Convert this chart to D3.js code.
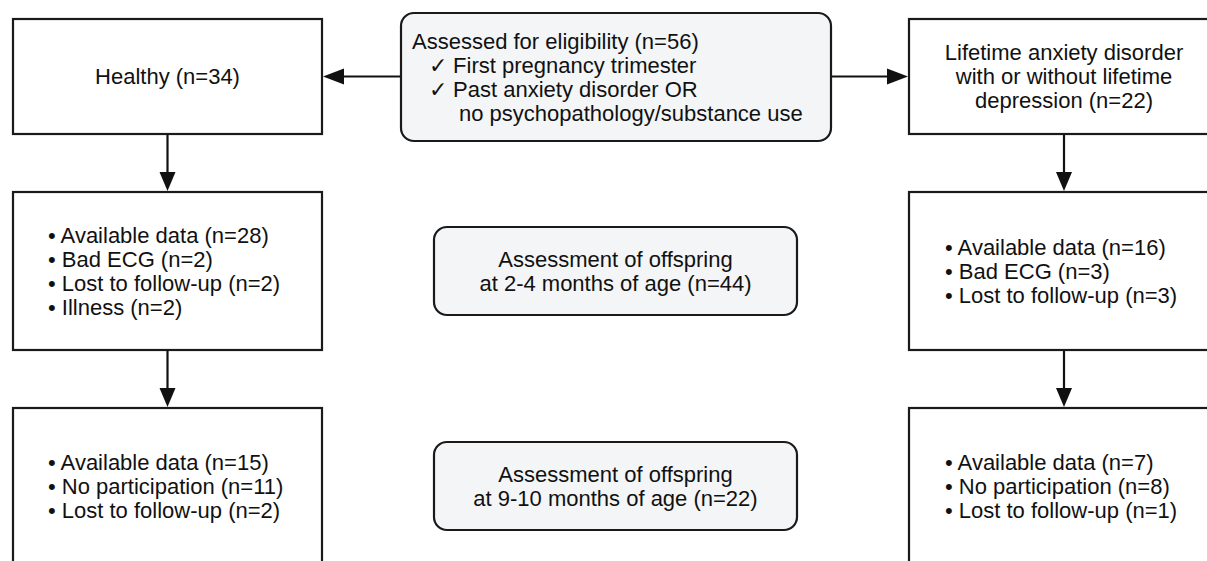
<!DOCTYPE html>
<html>
<head>
<meta charset="utf-8">
<script src="https://cdn.jsdelivr.net/npm/d3@7"></script>
<style>
	body { margin: 0; background: #fff; }
	svg { display: block; }
	.box { stroke: #1a1a1a; stroke-width: 2.2; }
	.link { stroke: #111; stroke-width: 2.2; fill: none; }
	.head { fill: #111; }
	text { font-family: "Liberation Sans", Arial, Helvetica, sans-serif; font-size: 22px; fill: #111; }
</style>
</head>
<body>
<div id="graphic"></div>
<script>
// box texts
var eligibilityText = ["Assessed for eligibility (n=56)", "\u2713 First pregnancy trimester", "\u2713 Past anxiety disorder OR", "no psychopathology/substance use"]
var healthyText = ["Healthy (n=34)"]
var anxietyText = ["Lifetime anxiety disorder", "with or without lifetime", "depression (n=22)"]
var healthy1Text = ["\u2022 Available data (n=28)", "\u2022 Bad ECG (n=2)", "\u2022 Lost to follow-up (n=2)", "\u2022 Illness (n=2)"]
var anxiety1Text = ["\u2022 Available data (n=16)", "\u2022 Bad ECG (n=3)", "\u2022 Lost to follow-up (n=3)"]
var assess1Text = ["Assessment of offspring", "at 2-4 months of age (n=44)"]
var healthy2Text = ["\u2022 Available data (n=15)", "\u2022 No participation (n=11)", "\u2022 Lost to follow-up (n=2)"]
var anxiety2Text = ["\u2022 Available data (n=7)", "\u2022 No participation (n=8)", "\u2022 Lost to follow-up (n=1)"]
var assess2Text = ["Assessment of offspring", "at 9-10 months of age (n=22)"]

// which box goes to which box
var LINKS = [["eligibility","healthy"],["eligibility","anxiety"],["healthy","healthy1"],["healthy1","healthy2"],["anxiety","anxiety1"],["anxiety1","anxiety2"]]

var width = 1207, height = 561
var lineHeight = 24

// layout of the boxes (pixels)
var layout = {
	eligibility: {x0: 401, x1: 831, y0: 13, y1: 141, round: true, lines: eligibilityText, align: "left", indent: [11, 28, 28, 58]},
	healthy: {x0: 13, x1: 322, y0: 19, y1: 134, lines: healthyText},
	anxiety: {x0: 909, x1: 1219, y0: 19, y1: 134, lines: anxietyText},
	healthy1: {x0: 13, x1: 322, y0: 192, y1: 350, lines: healthy1Text, align: "left", indent: [35]},
	assess1: {x0: 434, x1: 797, y0: 227, y1: 315, round: true, lines: assess1Text},
	anxiety1: {x0: 909, x1: 1219, y0: 192, y1: 350, lines: anxiety1Text, align: "left", indent: [36]},
	healthy2: {x0: 13, x1: 322, y0: 408, y1: 564, lines: healthy2Text, align: "left", indent: [35]},
	assess2: {x0: 434, x1: 797, y0: 442, y1: 530, round: true, lines: assess2Text},
	anxiety2: {x0: 909, x1: 1219, y0: 408, y1: 564, lines: anxiety2Text, align: "left", indent: [36]}
}

var nodes = Object.keys(layout).map(function(k){ var o = layout[k]; o.id = k; return o })

var svg = d3.select("#graphic")
	.append("svg")
	.attr("width", width)
	.attr("height", height)

// arrows first so the boxes sit on top
var arrowLen = 19, arrowHalf = 8
var links = svg.append("g")
LINKS.forEach(function(l){
	var a = layout[l[0]], b = layout[l[1]]
	var x1, y1, x2, y2, head
	if(a.y1 < b.y0){
		// vertical
		var cx = (b.x0 + b.x1) / 2
		x1 = cx; y1 = a.y1; x2 = cx; y2 = b.y0 - 1
		head = [[x2, y2], [x2 - arrowHalf, y2 - arrowLen], [x2 + arrowHalf, y2 - arrowLen]]
		y2 = y2 - arrowLen
	}else{
		var cy = (b.y0 + b.y1) / 2
		if(b.x1 < a.x0){
			x1 = a.x0; x2 = b.x1 + 1
			head = [[x2, cy], [x2 + arrowLen + 2, cy - arrowHalf], [x2 + arrowLen + 2, cy + arrowHalf]]
			x2 = x2 + arrowLen
		}else{
			x1 = a.x1; x2 = b.x0 - 1
			head = [[x2, cy], [x2 - arrowLen - 2, cy - arrowHalf], [x2 - arrowLen - 2, cy + arrowHalf]]
			x2 = x2 - arrowLen
		}
		y1 = cy; y2 = cy
	}
	links.append("line")
		.attr("class", "link")
		.attr("x1", x1).attr("y1", y1)
		.attr("x2", x2).attr("y2", y2)
	links.append("path")
		.attr("class", "head")
		.attr("d", d3.line()(head) + "Z")
})

var boxes = svg.selectAll(".node")
	.data(nodes)
	.enter()
	.append("g")
		.attr("class", "node")

boxes.append("rect")
	.attr("class", "box")
	.attr("x", function(d){ return d.x0 })
	.attr("y", function(d){ return d.y0 })
	.attr("width", function(d){ return d.x1 - d.x0 })
	.attr("height", function(d){ return d.y1 - d.y0 })
	.attr("rx", function(d){ return d.round ? 13 : 0 })
	.attr("fill", function(d){ return d.round ? "#f3f5f6" : "#fff" })

boxes.each(function(d){
	var g = d3.select(this)
	var cy = (d.y0 + d.y1) / 2
	var top = cy - (d.lines.length - 1) * lineHeight / 2
	var cx = (d.x0 + d.x1) / 2
	g.selectAll("text")
		.data(d.lines)
		.enter()
		.append("text")
		.attr("x", function(t, i){
			if(d.align == "left"){
				var ind = d.indent[Math.min(i, d.indent.length - 1)]
				return d.x0 + ind
			}
			return cx
		})
		.attr("y", function(t, i){ return top + i * lineHeight })
		.attr("dy", "0.36em")
		.attr("text-anchor", d.align == "left" ? "start" : "middle")
		.text(function(t){ return t })
})
</script>
</body>
</html>
